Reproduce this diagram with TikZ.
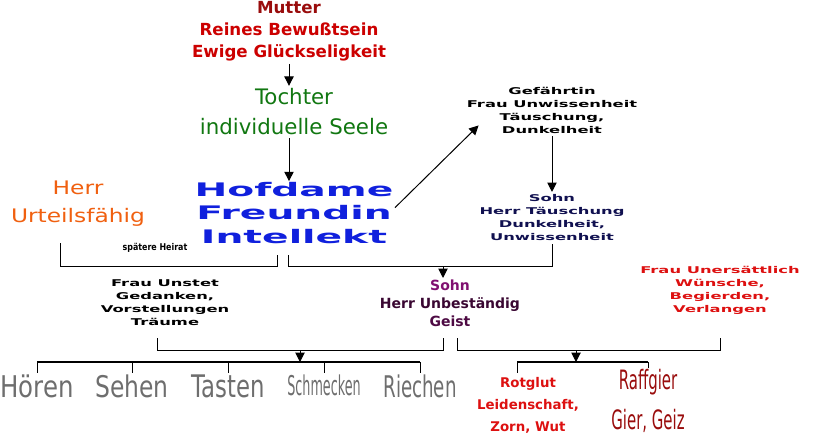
\documentclass[tikz,border=0pt]{standalone}
\usepackage{fontspec}
\usepackage{graphicx}
\usetikzlibrary{arrows.meta}
\setmainfont{DejaVu Sans}
\newfontfamily\weitfont[FakeStretch=2.1]{DejaVu Sans}
\newfontfamily\kleinweitfont[FakeStretch=1.75]{DejaVu Sans}
\newfontfamily\herrfont[FakeStretch=1.25]{DejaVu Sans}
\newfontfamily\schmalfont[FakeStretch=0.56]{DejaVu Sans}
\newfontfamily\heiratfont[FakeStretch=0.85]{DejaVu Sans}

\definecolor{mutterrot}{HTML}{CC0000}
\definecolor{seelengruen}{HTML}{117711}
\definecolor{hofblau}{HTML}{1020DD}
\definecolor{herrorange}{HTML}{F06010}
\definecolor{sohnblau}{HTML}{101050}
\definecolor{geistlila}{HTML}{801070}
\definecolor{gierrot}{HTML}{DD1010}
\definecolor{raffrot}{HTML}{990C0C}
\definecolor{sinngrau}{HTML}{6E6E6E}

% Sinnesworte auf gleiche Breite bringen
\newcommand{\sinn}[1]{\resizebox{55pt}{17pt}{#1}}

\tikzset{
    % Verbindungen
    pfeil/.style={-{Triangle[length=7pt,width=7pt]}, line width=0.75pt},
    klammer/.style={line width=0.75pt},
    leiste/.style={line width=1.6pt},
    % Textstile
    mutter text/.style={font=\bfseries\fontsize{12.5}{16.5}\selectfont, text=mutterrot, align=center, inner sep=2pt},
    tochter text/.style={font=\fontsize{16}{22.5}\selectfont, text=seelengruen, align=center, inner sep=2pt},
    hof text/.style={font=\weitfont\bfseries\fontsize{14}{17.3}\selectfont, text=hofblau, align=center, inner sep=1pt},
    herr text/.style={font=\herrfont\fontsize{14}{21}\selectfont, text=herrorange, align=center},
    klein text/.style={font=\kleinweitfont\bfseries\fontsize{7}{9.75}\selectfont, align=center, inner sep=2pt},
    geist text/.style={font=\bfseries\fontsize{10.5}{13.5}\selectfont, align=center, inner sep=1pt},
    glut text/.style={font=\bfseries\fontsize{10}{16.5}\selectfont, text=gierrot, align=center, inner sep=1pt},
    raff text/.style={font=\schmalfont\fontsize{20}{30}\selectfont, text=raffrot, align=center, inner sep=1pt},
    sinn text/.style={text=sinngrau, inner sep=1.5pt, anchor=north},
    heirat text/.style={font=\heiratfont\bfseries\fontsize{7}{8}\selectfont},
}

\begin{document}
\begin{tikzpicture}[x=0.75pt, y=-0.75pt]
    \useasboundingbox (0,0) rectangle (817,435);

    % Obere Kette
    \node[mutter text] (mutter) at (289,31)
        {\textcolor{raffrot}{Mutter}\\Reines Bewußtsein\\Ewige Glückseligkeit};
    \node[tochter text] (tochter) at (294,112) {Tochter\\individuelle Seele};
    \node[hof text] (hofdame) at (294,213) {Hofdame\\Freundin\\Intellekt};
    \draw[pfeil] (mutter.south) -- (mutter.south |- tochter.north);
    \draw[pfeil] (mutter.south |- tochter.south) -- (mutter.south |- hofdame.north);

    % Links: Herr
    \node[herr text] (herr) at (78,204) {Herr\\Urteilsfähig};
    \node[heirat text] (heirat) at (155,248) {spätere Heirat};

    % Rechts: Gefährtin und Sohn
    \node[klein text] (gefaehrtin) at (552,110)
        {Gefährtin\\Frau Unwissenheit\\Täuschung,\\Dunkelheit};
    \node[klein text, text=sohnblau] (sohnT) at (552,218)
        {Sohn\\Herr Täuschung\\Dunkelheit,\\Unwissenheit};
    \draw[pfeil] ([yshift=4pt]hofdame.east) -- ([xshift=11pt,yshift=8pt]gefaehrtin.south west);
    \draw[pfeil] (gefaehrtin) -- (sohnT);

    % Mitte: Geist
    \node[geist text] (geist) at (450,303)
        {\textcolor{geistlila}{Sohn}\\\textcolor{geistlila!45!black}{Herr Unbeständig}\\\textcolor{geistlila!60!black}{Geist}};
    \node[klein text] (unstet) at (165,303)
        {Frau Unstet\\Gedanken,\\Vorstellungen\\Träume};
    \node[klein text, text=gierrot] (unersatt) at (720,290)
        {Frau Unersättlich\\Wünsche,\\Begierden,\\Verlangen};

    % Erste Klammern
    \coordinate (k1) at (60,243);
    \coordinate (k2) at (277,255);
    \coordinate (k3) at (288,255);
    \coordinate (z1) at (443,266);
    \draw[klammer] (k1) -- ++(0,23) -| (k2);
    \draw[klammer] (k3) -- ++(0,11) -| (sohnT.south);
    \draw[pfeil] (z1) -- (z1 |- geist.north);

    % Sinne
    \coordinate (k4) at (157,338);
    \coordinate (k5) at (443,338);
    \coordinate (z2) at (300,350);
    \coordinate (l1) at (0,362);
    \draw[klammer] (k4) -- ++(0,12) -| (k5);
    \draw[pfeil] (z2) -- (z2 |- l1);
    \node[sinn text] (hoeren) at (37,373) {\sinn{Hören}};
    \node[sinn text] (sehen) at (132,373) {\sinn{Sehen}};
    \node[sinn text] (tasten) at (228,373) {\sinn{Tasten}};
    \node[sinn text] (schmecken) at (324,373) {\resizebox{55pt}{15.5pt}{Schmecken}};
    \node[sinn text] (riechen) at (420,373) {\sinn{Riechen}};
    \draw[leiste] (hoeren.north |- l1) -- (riechen.north |- l1);
    \draw[klammer] (hoeren.north |- l1) -- (hoeren.north);
    \draw[klammer] (sehen.north |- l1) -- (sehen.north);
    \draw[klammer] (tasten.north |- l1) -- (tasten.north);
    \draw[klammer] (schmecken.north |- l1) -- (schmecken.north);
    \draw[klammer] (riechen.north |- l1) -- (riechen.north);

    % Leidenschaften
    \coordinate (k6) at (457,338);
    \coordinate (k7) at (720,338);
    \coordinate (z3) at (576,350);
    \coordinate (t1) at (517,373);
    \draw[klammer] (k6) -- ++(0,12) -| (k7);
    \draw[pfeil] (z3) -- (z3 |- l1);
    \node[glut text] (rotglut) at (528,405) {Rotglut\\Leidenschaft,\\Zorn, Wut};
    \node[raff text] (raffgier) at (648,401) {Raffgier\\Gier, Geiz};
    \draw[leiste] (t1 |- l1) -- (raffgier.north |- l1);
    \draw[klammer] (t1 |- l1) -- (t1);
    \draw[klammer] (raffgier.north |- l1) -- (raffgier.north);
\end{tikzpicture}
\end{document}
